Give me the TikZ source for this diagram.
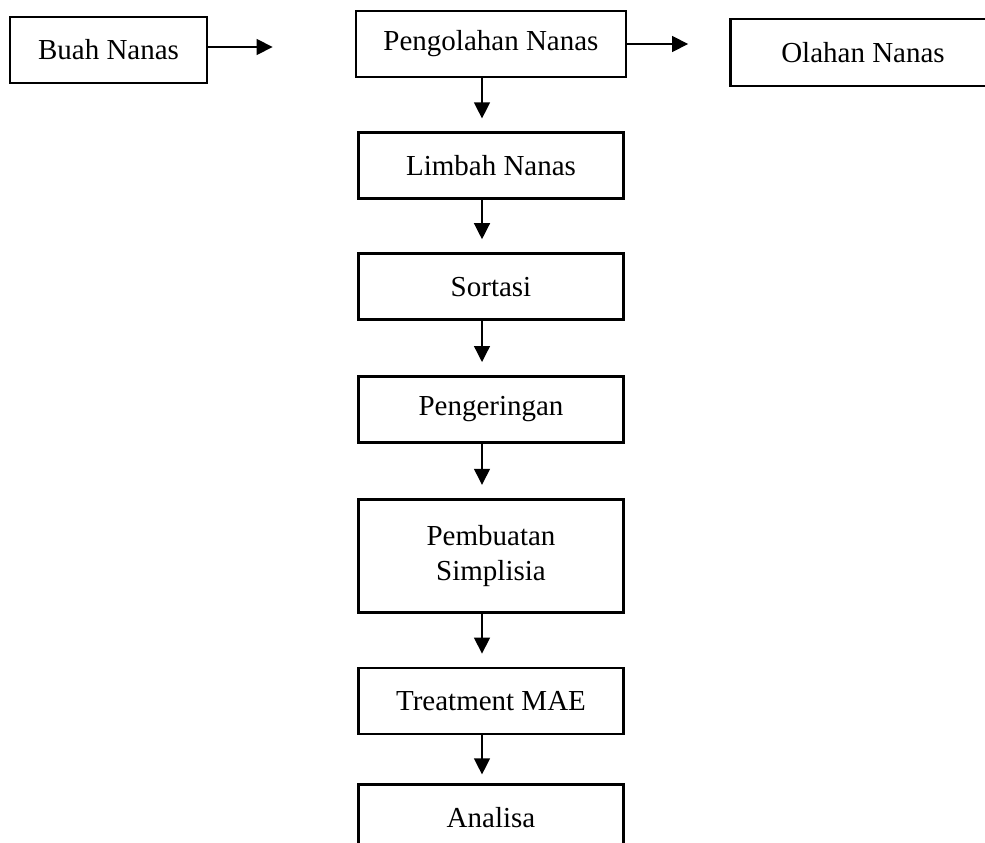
\documentclass[tikz,border=0pt]{standalone}
\usepackage{fontspec}
\setmainfont{Liberation Serif}
\usetikzlibrary{positioning,arrows.meta}
\tikzset{
    block/.style={rectangle, draw=black, line width=2.8pt, minimum width=265pt, minimum height=66pt, inner sep=2pt, text centered, align=center, font=\fontsize{29}{35}\selectfont},
    line/.style={-{Triangle[width=16pt,length=16pt]}, line width=1.3pt, shorten >=13pt},
}
\begin{document}
\begin{tikzpicture}
        [x=1pt,y=1pt,node distance=53pt]
        \useasboundingbox (0,0) rectangle (985,-843);
        \clip (0,0) rectangle (985,-843);

        % Nodes of the process
        \node[block,minimum width=270pt] (pengolahan) at (491,-44) {Pengolahan Nanas};
        \node[block,minimum width=197pt] (buah) at (108.5,-50) {Buah Nanas};
        \node[block,minimum height=67pt] (olahan) at (863,-52.5) {Olahan Nanas};
        \node[block,below=of pengolahan] (limbah) {Limbah Nanas};
        \node[block,below=52pt of limbah] (sortasi) {Sortasi};
        \node[block,below=54pt of sortasi] (pengeringan) {Pengeringan};
        \node[block,below=54pt of pengeringan,minimum height=113pt] (pembuatan) {Pembuatan\\Simplisia};
        \node[block,below=of pembuatan] (treatment) {Treatment MAE};
        \node[block,below=48pt of treatment] (analisa) {Analisa};

        % Lines
        \draw[line,shorten >=82pt] ([yshift=3pt]buah.east) -- ([yshift=3pt]buah.east -| pengolahan.west);
        \draw[line,shorten >=41pt] (pengolahan.east) -- (pengolahan.east -| olahan.west);
        \draw[line] ([xshift=-9pt]pengolahan.south) -- ([xshift=-9pt]limbah.north);
        \draw[line] ([xshift=-9pt]limbah.south) -- ([xshift=-9pt]sortasi.north);
        \draw[line] ([xshift=-9pt]sortasi.south) -- ([xshift=-9pt]pengeringan.north);
        \draw[line] ([xshift=-9pt]pengeringan.south) -- ([xshift=-9pt]pembuatan.north);
        \draw[line] ([xshift=-9pt]pembuatan.south) -- ([xshift=-9pt]treatment.north);
        \draw[line,shorten >=9pt] ([xshift=-9pt]treatment.south) -- ([xshift=-9pt]analisa.north);

    \end{tikzpicture}
\end{document}
